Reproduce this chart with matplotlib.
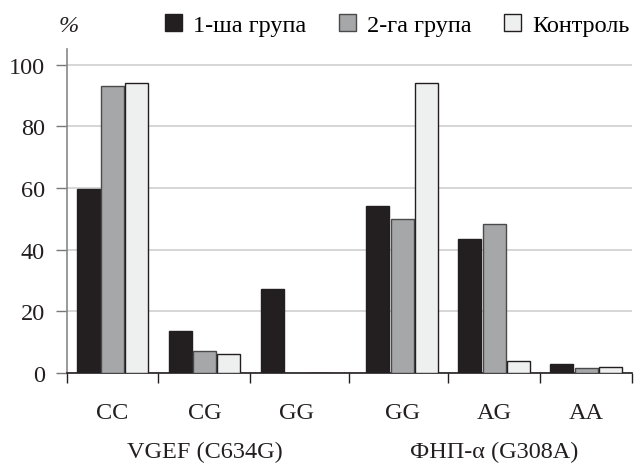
import matplotlib
matplotlib.use('Agg')
import matplotlib.pyplot as plt
from matplotlib.patches import Patch
import numpy as np

# genotype frequencies, %
genotypes = ['CC', 'CG', 'GG', 'GG', 'AG', 'AA']
genes = ['VGEF (C634G)', 'ФНП-α (G308A)']
group1 = [59.5, 13.5, 27.1, 54.0, 43.4, 2.8]
group2 = [92.9, 7.1, 0, 50.0, 48.3, 1.7]
control = [94.0, 6.2, 0, 94.0, 4.0, 1.9]
labels = ['1-ша група', '2-га група', 'Контроль']

plt.rcParams['font.family'] = ['Liberation Serif', 'DejaVu Serif']
fs = 17.5

# category centres (second gene slightly shifted to the right)
x = np.array([0, 1, 2, 3.15, 4.15, 5.15])
bounds = [-0.495, 0.5, 1.5, 2.575, 3.65, 4.65, 5.65]

fig = plt.figure(figsize=(6.41, 4.64), dpi=100)
ax = fig.add_axes([0.1045, 0.194, 0.8815, 0.698])

w = 0.25
step = 0.265
ax.bar(x - step, group1, w, color='#231f20', edgecolor='#231f20', linewidth=1, zorder=3, label=labels[0])
ax.bar(x, group2, w, color='#a6a7a9', edgecolor='#4a4a4a', linewidth=1, zorder=3, label=labels[1])
ax.bar(x + step, control, w, color='#eef0ef', edgecolor='#231f20', linewidth=1, zorder=3, label=labels[2])

ax.set_xlim(bounds[0], bounds[-1])
ax.set_ylim(0, 105)
ax.set_yticks([0, 20, 40, 60, 80, 100])
ax.yaxis.grid(True, color='#cfcfcf', linewidth=1.2, zorder=0)
ax.set_axisbelow(True)

ax.set_xticks(bounds)
ax.set_xticklabels([])
ax.set_xticks(x, minor=True)
ax.set_xticklabels(genotypes, minor=True, fontsize=fs, color='#231f20')
ax.tick_params(axis='x', which='major', direction='out', length=7, color='#231f20', width=1)
ax.tick_params(axis='x', which='minor', length=0, pad=21)
ax.tick_params(axis='y', direction='out', length=8, color='#777777', width=1, labelsize=fs,
               labelcolor='#231f20', pad=8)

for s in ['top', 'right']:
    ax.spines[s].set_visible(False)
ax.spines['left'].set_color('#888888')
ax.spines['left'].set_linewidth(1.2)
ax.spines['bottom'].set_color('#231f20')
ax.spines['bottom'].set_linewidth(1.2)

# gene names under genotypes
ax.annotate(genes[0], xy=(x[1], -0.241), xycoords=('data', 'axes fraction'),
            ha='center', va='center', fontsize=fs, color='#231f20')
ax.annotate(genes[1], xy=(x[4], -0.241), xycoords=('data', 'axes fraction'),
            ha='center', va='center', fontsize=fs, color='#231f20')

fig.text(0.107, 0.942, '%', fontsize=fs, style='italic', ha='center', va='center', color='#231f20')

handles = [Patch(facecolor='#231f20', edgecolor='#231f20'),
           Patch(facecolor='#a6a7a9', edgecolor='#4a4a4a'),
           Patch(facecolor='#eef0ef', edgecolor='#231f20')]
fig.legend(handles, labels, loc='center right', bbox_to_anchor=(0.982, 0.944), ncol=3,
           frameon=False, fontsize=fs, handlelength=0.7, handleheight=0.7,
           handletextpad=0.45, columnspacing=1.35, borderaxespad=0.0, borderpad=0.0)

plt.savefig('out.png', dpi=100)
